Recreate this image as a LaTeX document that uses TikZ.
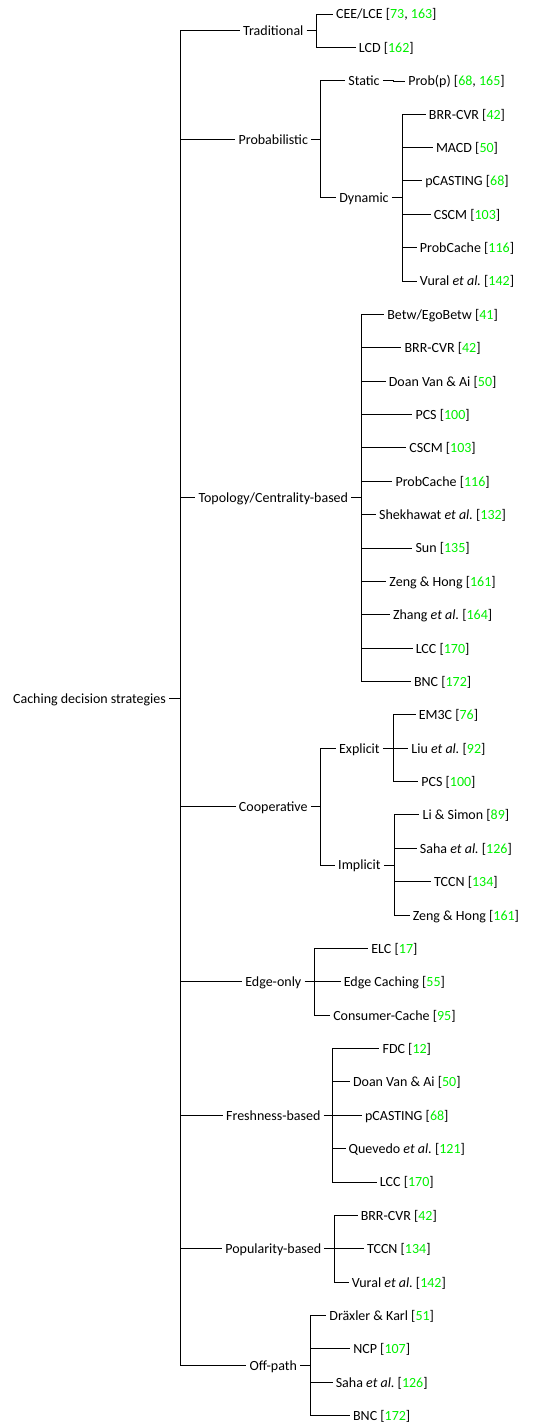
\documentclass[tikz,border=0pt]{standalone}
\usepackage{fontspec}
\setmainfont{Carlito}
\definecolor{citeg}{RGB}{0,240,0}
\newcommand{\cn}[1]{\textcolor{citeg}{#1}}
\newcommand{\rf}[1]{[\cn{#1}]}
\newcommand{\etal}{\textit{et al.}\ }
\begin{document}
\begin{tikzpicture}[x=1pt, y=-33.37pt,
  every node/.style={font=\fontsize{14}{16}\selectfont, inner sep=3pt,
    anchor=center, text height=11pt, text depth=1pt},
  edge/.style={draw=black, line width=0.8pt}]
\useasboundingbox (0,-0.41954) rectangle (553,42.3134);

% root and first level
\node (root) at (89.5,20.5) {Caching decision strategies};
\coordinate (f0) at (180,20.5);
\node (trad)  at (273.3,0.5)   {Traditional};
\node (prob)  at (273.3,3.75)  {Probabilistic};
\node (topo)  at (273.3,14.5)  {Topology/Centrality-based};
\node (coop)  at (273.3,23.75) {Cooperative};
\node (edge)  at (273.3,29)    {Edge-only};
\node (fresh) at (273.3,33)    {Freshness-based};
\node (pop)   at (273.3,37)    {Popularity-based};
\node (off)   at (273.3,40.5)  {Off-path};
\draw[edge] (root.east) -- (f0);
\foreach \c in {trad,prob,topo,coop,edge,fresh,pop,off}
  \draw[edge] (f0) |- (\c.west);

% Traditional
\coordinate (ftr) at (316.7,0.5);
\node (tr0) at (386.3,0) {CEE/LCE [\cn{73}, \cn{163}]};
\node (tr1) at (386.3,1) {LCD \rf{162}};
\draw[edge] (trad.east) -- (ftr);
\foreach \k in {0,1} \draw[edge] (ftr) |- (tr\k.west);

% Probabilistic
\coordinate (fpr) at (320.7,3.75);
\node (st) at (364,2)   {Static};
\node (dy) at (364,5.5) {Dynamic};
\draw[edge] (prob.east) -- (fpr);
\draw[edge] (fpr) |- (st.west);
\draw[edge] (fpr) |- (dy.west);

\coordinate (fst) at (393,2);
\node (pp) at (456.5,2) {Prob(p) [\cn{68}, \cn{165}]};
\draw[edge] (st.east) -- (fst) |- ([yshift=-1pt]pp.west);

\coordinate (fdy) at (402.7,5.5);
\foreach \t [count=\k from 3] in {{BRR-CVR \rf{42}}, {MACD \rf{50}},
    {pCASTING \rf{68}}, {CSCM \rf{103}}, {ProbCache \rf{116}},
    {Vural \etal\rf{142}}}
  \node (dy\k) at (467,\k) {\t};
\draw[edge] (dy.east) -- (fdy);
\foreach \k in {3,...,8} \draw[edge] (fdy) |- (dy\k.west);

% Topology/Centrality-based
\coordinate (fto) at (361.7,14.5);
\foreach \t [count=\k from 9] in {{Betw/EgoBetw \rf{41}}, {BRR-CVR \rf{42}},
    {Doan Van \& Ai \rf{50}}, {PCS \rf{100}}, {CSCM \rf{103}},
    {ProbCache \rf{116}}, {Shekhawat \etal\rf{132}}, {Sun \rf{135}},
    {Zeng \& Hong \rf{161}}, {Zhang \etal\rf{164}}, {LCC \rf{170}},
    {BNC \rf{172}}}
  \node (to\k) at (442.6,\k) {\t};
\draw[edge] (topo.east) -- (fto);
\foreach \k in {9,...,20} \draw[edge] (fto) |- (to\k.west);

% Cooperative
\coordinate (fco) at (320,23.75);
\node (ex) at (359.4,22)   {Explicit};
\node (im) at (359.4,25.5) {Implicit};
\draw[edge] (coop.east) -- (fco);
\draw[edge] (fco) |- (ex.west);
\draw[edge] (fco) |- (im.west);

\coordinate (fex) at (393.3,22);
\foreach \t [count=\k from 21] in {{EM3C \rf{76}}, {Liu \etal\rf{92}},
    {PCS \rf{100}}}
  \node (ex\k) at (448.4,\k) {\t};
\draw[edge] (ex.east) -- (fex);
\foreach \k in {21,22,23} \draw[edge] (fex) |- (ex\k.west);

\coordinate (fim) at (394,25.5);
\foreach \t [count=\k from 24] in {{Li \& Simon \rf{89}},
    {Saha \etal\rf{126}}, {TCCN \rf{134}}, {Zeng \& Hong \rf{161}}}
  \node (im\k) at (465.9,\k) {\t};
\draw[edge] (im.east) -- (fim);
\foreach \k in {24,...,27} \draw[edge] (fim) |- (im\k.west);

% Edge-only
\coordinate (fed) at (314,29);
\foreach \t [count=\k from 28] in {{ELC \rf{17}}, {Edge Caching \rf{55}},
    {Consumer-Cache \rf{95}}}
  \node (ed\k) at (394.4,\k) {\t};
\draw[edge] (edge.east) -- (fed);
\foreach \k in {28,29,30} \draw[edge] (fed) |- (ed\k.west);

% Freshness-based
\coordinate (ffr) at (332.3,33);
\foreach \t [count=\k from 31] in {{FDC \rf{12}}, {Doan Van \& Ai \rf{50}},
    {pCASTING \rf{68}}, {Quevedo \etal\rf{121}}, {LCC \rf{170}}}
  \node (fr\k) at (406.8,\k) {\t};
\draw[edge] (fresh.east) -- (ffr);
\foreach \k in {31,...,35} \draw[edge] (ffr) |- (fr\k.west);

% Popularity-based
\coordinate (fpo) at (334,37);
\foreach \t [count=\k from 36] in {{BRR-CVR \rf{42}}, {TCCN \rf{134}},
    {Vural \etal\rf{142}}}
  \node (po\k) at (398.8,\k) {\t};
\draw[edge] (pop.east) -- (fpo);
\foreach \k in {36,37,38} \draw[edge] (fpo) |- (po\k.west);

% Off-path
\coordinate (fof) at (310,40.5);
\foreach \t [count=\k from 39] in {{Dräxler \& Karl \rf{51}}, {NCP \rf{107}},
    {Saha \etal\rf{126}}, {BNC \rf{172}}}
  \node (of\k) at (381.7,\k) {\t};
\draw[edge] (off.east) -- (fof);
\foreach \k in {39,...,42} \draw[edge] (fof) |- (of\k.west);
\end{tikzpicture}
\end{document}
